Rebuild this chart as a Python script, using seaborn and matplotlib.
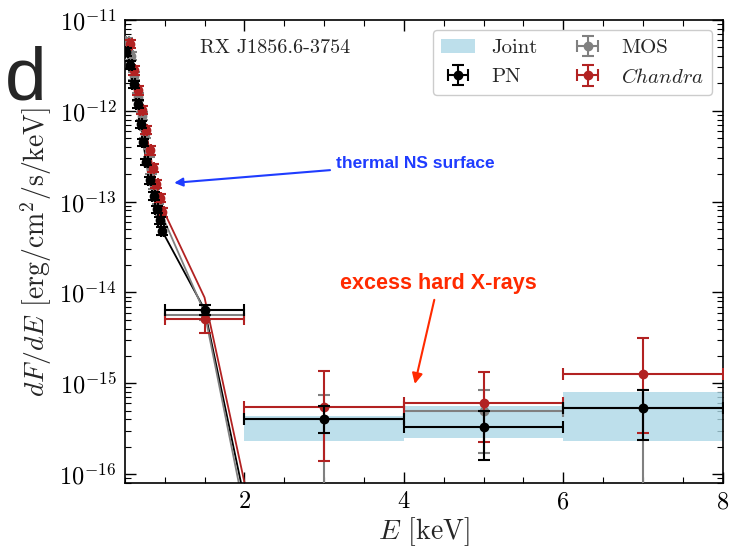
import numpy as np
import pandas as pd
import matplotlib
matplotlib.use('Agg')
import matplotlib.pyplot as plt
import seaborn as sns
from matplotlib.patches import Patch
from matplotlib.ticker import NullFormatter, LogLocator

# --- data ---
# PN (black)
pn_E = [0.52, 0.57, 0.61, 0.66, 0.70, 0.73, 0.77, 0.81, 0.86, 0.90, 0.94, 0.97, 1.5, 3.0, 5.0, 7.0]
pn_F = [4.44e-12, 3.19e-12, 1.97e-12, 1.19e-12, 7.13e-13, 4.52e-13, 2.72e-13, 1.72e-13,
        1.15e-13, 8.25e-14, 6.23e-14, 4.72e-14, 6.4e-15, 4.07e-16, 3.28e-16, 5.32e-16]
pn_lo = [4.0e-12, 2.9e-12, 1.8e-12, 1.08e-12, 6.5e-13, 4.1e-13, 2.5e-13, 1.57e-13,
         1.05e-13, 7.5e-14, 5.7e-14, 4.3e-14, 5.6e-15, 2.84e-16, 1.43e-16, 2.4e-16]
pn_hi = [4.9e-12, 3.5e-12, 2.15e-12, 1.3e-12, 7.8e-13, 4.95e-13, 2.95e-13, 1.88e-13,
         1.26e-13, 9.0e-14, 6.8e-14, 5.2e-14, 7.2e-15, 5.6e-16, 5.0e-16, 8.4e-16]
pn_dE = [0.02] * 12 + [0.5, 1.0, 1.0, 1.0]

# MOS (gray)
mos_E = [0.53, 0.58, 0.62, 0.67, 0.71, 0.75, 0.80, 0.83, 0.87, 0.91, 0.95, 1.5, 3.0, 5.0, 7.0]
mos_F = [5.72e-12, 4.01e-12, 2.42e-12, 1.42e-12, 8.74e-13, 5.54e-13, 3.42e-13, 2.22e-13,
         1.52e-13, 1.04e-13, 7.63e-14, 5.7e-15, 4.1e-16, 5.0e-16, 5.3e-16]
mos_lo = [5.2e-12, 3.65e-12, 2.2e-12, 1.29e-12, 7.9e-13, 5.0e-13, 3.1e-13, 2.0e-13,
          1.37e-13, 9.4e-14, 6.9e-14, 5.0e-15, 1e-18, 1.7e-16, 1e-18]
mos_hi = [6.3e-12, 4.4e-12, 2.65e-12, 1.56e-12, 9.6e-13, 6.1e-13, 3.75e-13, 2.45e-13,
          1.68e-13, 1.15e-13, 8.4e-14, 6.4e-15, 7.5e-16, 8.5e-16, 8.5e-16]
mos_dE = [0.02] * 11 + [0.5, 1.0, 1.0, 1.0]

# Chandra (red)
ch_E = [0.57, 0.61, 0.66, 0.71, 0.76, 0.81, 0.85, 0.89, 0.94, 0.97, 1.5, 3.0, 5.0, 7.0]
ch_F = [5.43e-12, 2.81e-12, 1.69e-12, 1.02e-12, 6.12e-13, 3.69e-13, 2.33e-13, 1.56e-13,
        1.09e-13, 7.63e-14, 5.1e-15, 5.54e-16, 6.0e-16, 1.28e-15]
ch_lo = [4.9e-12, 2.5e-12, 1.5e-12, 9.1e-13, 5.5e-13, 3.3e-13, 2.1e-13, 1.4e-13,
         9.8e-14, 6.8e-14, 3.6e-15, 1.41e-16, 2.24e-16, 2.82e-16]
ch_hi = [6.0e-12, 3.1e-12, 1.88e-12, 1.14e-12, 6.8e-13, 4.1e-13, 2.6e-13, 1.73e-13,
         1.21e-13, 8.5e-14, 6.4e-15, 1.36e-15, 1.33e-15, 3.18e-15]
ch_dE = [0.02] * 10 + [0.5, 1.0, 1.0, 1.0]

# model curves (folded at the data energies)
pn_model = [4.44e-12, 3.19e-12, 1.97e-12, 1.19e-12, 7.13e-13, 4.52e-13, 2.72e-13, 1.72e-13,
            1.15e-13, 8.25e-14, 6.23e-14, 4.72e-14, 6.5e-15, 3.6e-21]
mos_model = [5.72e-12, 4.01e-12, 2.42e-12, 1.42e-12, 8.74e-13, 5.54e-13, 3.42e-13, 2.22e-13,
             1.52e-13, 1.04e-13, 7.63e-14, 6.0e-15, 1.7e-21]
ch_model = [5.43e-12, 2.81e-12, 1.69e-12, 1.02e-12, 6.12e-13, 3.69e-13, 2.33e-13, 1.56e-13,
            1.09e-13, 8.5e-14, 8.8e-15, 7.0e-21]

# joint fit band in the hard bins
joint_lo_E = [2, 4, 6]
joint_hi_E = [4, 6, 8]
joint_lo = [2.3e-16, 2.48e-16, 2.29e-16]
joint_hi = [4.41e-16, 5.69e-16, 8.1e-16]

y_ticks = [1e-16, 1e-15, 1e-14, 1e-13, 1e-12, 1e-11]

sns.set_theme(style='ticks')
plt.rcParams['font.family'] = 'serif'
plt.rcParams['font.serif'] = ['cmr10']
plt.rcParams['mathtext.fontset'] = 'cm'
plt.rcParams['axes.formatter.use_mathtext'] = True
plt.rcParams['axes.unicode_minus'] = False

fig = plt.figure(figsize=(7.3, 5.53), dpi=100)
ax = fig.add_axes([0.171, 0.1266, 0.819, 0.8374])

# joint band
for x0, x1, lo, hi in zip(joint_lo_E, joint_hi_E, joint_lo, joint_hi):
    ax.fill_between([x0, x1], [lo, lo], [hi, hi], color='lightblue', alpha=0.8, lw=0, zorder=1)

# model lines
mdl = pd.concat([
    pd.DataFrame({'E': pn_E[:14], 'F': pn_model, 'inst': 'PN'}),
    pd.DataFrame({'E': mos_E[:13], 'F': mos_model, 'inst': 'MOS'}),
    pd.DataFrame({'E': ch_E[:12], 'F': ch_model, 'inst': 'Chandra'}),
])
cols = {'PN': 'black', 'MOS': 'gray', 'Chandra': 'firebrick'}
sns.lineplot(data=mdl, x='E', y='F', hue='inst', palette=cols, sort=False,
             lw=1.3, legend=False, ax=ax, zorder=2)

def draw(E, F, lo, hi, dE, color, z):
    F = np.array(F)
    yerr = [F - np.array(lo), np.array(hi) - F]
    return ax.errorbar(E, F, xerr=dE, yerr=yerr, fmt='o', color=color, ms=6,
                       elinewidth=1.5, capsize=4, capthick=1.5, zorder=z)

h_mos = draw(mos_E, mos_F, mos_lo, mos_hi, mos_dE, 'gray', 3)
h_ch = draw(ch_E, ch_F, ch_lo, ch_hi, ch_dE, 'firebrick', 4)
h_pn = draw(pn_E, pn_F, pn_lo, pn_hi, pn_dE, 'black', 5)

ax.set_yscale('log')
ax.set_xlim(0.5, 8)
ax.set_ylim(8e-17, 1e-11)
ax.set_yticks(y_ticks)
ax.yaxis.set_minor_locator(LogLocator(base=10, subs=np.arange(2, 10)))
ax.yaxis.set_minor_formatter(NullFormatter())
ax.set_xticks([2, 4, 6, 8])
ax.set_xticks(np.arange(0.5, 8.01, 0.5), minor=True)
ax.set_xticklabels(['2', '4', '6', '8'])
ax.tick_params(which='both', direction='in', top=True, right=True, labelsize=17.5, colors='black')
ax.tick_params(which='major', length=8, width=1, pad=6)
ax.tick_params(which='minor', length=4, width=0.8)
for s in ax.spines.values():
    s.set_color('black')
    s.set_linewidth(1.2)

ax.set_xlabel('$E$ [keV]', fontsize=20, labelpad=1)
ax.set_ylabel('$dF/dE$ [erg/cm$^2$/s/keV]', fontsize=20, labelpad=4)

ax.text(0.125, 0.94, 'RX J1856.6-3754', transform=ax.transAxes, fontsize=14.5,
        ha='left', va='center')

ax.annotate('thermal NS surface', xy=(1.085, 1.6e-13), xytext=(3.15, 2.65e-13),
            color='#1f3cff', fontsize=12.5, fontweight='bold', family='Liberation Sans',
            ha='left', va='center',
            arrowprops=dict(arrowstyle='-|>', color='#1f3cff', lw=1.5))
ax.annotate('excess hard X-rays', xy=(4.13, 9.2e-16), xytext=(4.43, 1.26e-14),
            color='#ff2a00', fontsize=15.5, fontweight='bold', family='Liberation Sans',
            ha='center', va='center',
            arrowprops=dict(arrowstyle='-|>', color='#ff2a00', lw=1.5))

fig.text(0.006, 0.82, 'd', fontsize=54, family='Liberation Sans', ha='left', va='baseline')

joint = Patch(facecolor='lightblue', alpha=0.8, edgecolor='none')
ax.legend([joint, h_pn, h_mos, h_ch], ['Joint', 'PN', 'MOS', '$Chandra$'],
          ncol=2, loc='upper right', fontsize=15, frameon=True, fancybox=True,
          framealpha=1, edgecolor='#cccccc', handlelength=1.6, columnspacing=1.6)

fig.savefig('out.png', dpi=100)
